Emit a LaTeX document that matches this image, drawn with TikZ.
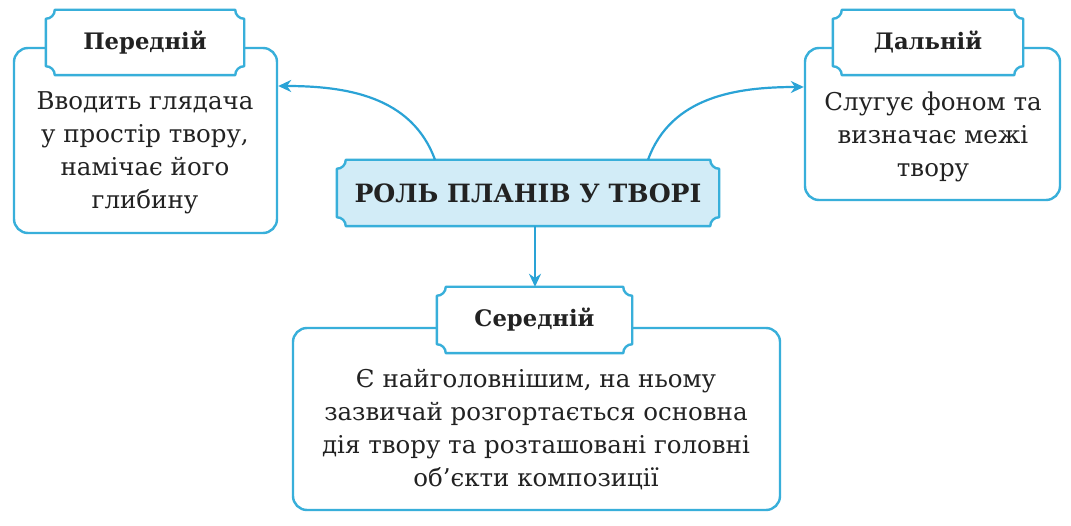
\documentclass[tikz,border=0pt]{standalone}
\usepackage{fontspec}
\setmainfont{DejaVu Serif}
\usetikzlibrary{arrows.meta,calc}
\pgfdeclarelayer{bgl}
\pgfdeclarelayer{midl}
\pgfsetlayers{bgl,midl,main}
\definecolor{bord}{HTML}{38AFDA}
\definecolor{arr}{HTML}{2AA3D6}
\definecolor{lblue}{HTML}{D2ECF7}
\definecolor{txt}{HTML}{222222}
\tikzset{
  mainbox/.style={draw=bord, line width=2.4pt, rounded corners=14pt, fill=white, inner sep=0pt},
  plaquebox/.style={inner sep=0pt, text=txt, font=\bfseries\fontsize{22.7}{26}\selectfont},
  bodytext/.style={align=center, text=txt, font=\fontsize{24.5}{33}\selectfont, inner sep=0pt},
  plaqueline/.style={draw=bord, line width=2.4pt, line join=round},
  conn/.style={draw=arr, line width=2.2pt, -{Stealth[length=13pt,width=12pt]}}
}
\newcommand\plaqueshape[3]{%
  \draw[plaqueline,fill=#3] ([xshift=#2]#1.north west) -- ([xshift=-#2]#1.north east)
    arc[start angle=180,end angle=270,radius=#2] -- ([yshift=#2]#1.south east)
    arc[start angle=90,end angle=180,radius=#2] -- ([xshift=#2]#1.south west)
    arc[start angle=0,end angle=90,radius=#2] -- ([yshift=-#2]#1.north west)
    arc[start angle=270,end angle=360,radius=#2] -- cycle;}
\begin{document}
\begin{tikzpicture}[x=1pt,y=1pt]
\begin{pgfonlayer}{bgl}
\fill[white] (0,0) rectangle (1071,525);
\end{pgfonlayer}
\useasboundingbox (0,0) rectangle (1071,525);
% boxes
\begin{pgfonlayer}{bgl}
\node[mainbox, minimum width=263pt, minimum height=185pt] (lbox) at (145.5,384.5) {};
\node[mainbox, minimum width=255pt, minimum height=152pt] (rbox) at (932.5,401) {};
\node[mainbox, minimum width=487pt, minimum height=182pt] (bbox) at (536.5,106) {};
\end{pgfonlayer}
% plaques
\node[plaquebox, minimum width=198pt, minimum height=65pt] (lpl) at (145,482.5) {Передній};
\node[plaquebox, minimum width=190pt, minimum height=65pt] (rpl) at (928,482.5) {Дальній};
\node[plaquebox, minimum width=195pt, minimum height=66pt] (bpl) at (534.5,205) {Середній};
\node[plaquebox, minimum width=382pt, minimum height=66pt, font=\bfseries\fontsize{25.2}{29}\selectfont] (cpl) at (528,332) {РОЛЬ ПЛАНІВ У ТВОРІ};
\begin{pgfonlayer}{midl}
\plaqueshape{lpl}{9pt}{white}
\plaqueshape{rpl}{9pt}{white}
\plaqueshape{bpl}{9pt}{white}
\plaqueshape{cpl}{9pt}{lblue}
\end{pgfonlayer}
% body texts
\node[bodytext] (ltext) at (145,372) {Вводить глядача\\у простір твору,\\намічає його\\глибину};
\node[bodytext] (rtext) at (933,388) {Слугує фоном та\\визначає межі\\твору};
\node[bodytext] (btext) at (536,95) {Є найголовнішим, на ньому\\зазвичай розгортається основна\\дія твору та розташовані головні\\об’єкти композиції};
% connectors
\draw[conn] ([xshift=-93pt]cpl.north) to[out=110,in=0] ([yshift=54.5pt]lbox.east);
\draw[conn] ([xshift=120pt]cpl.north) to[out=70,in=180] ([yshift=37pt]rbox.west);
\draw[conn] ([xshift=7pt]cpl.south) -- ([xshift=7pt]cpl.south |- bpl.north);
\end{tikzpicture}
\end{document}
